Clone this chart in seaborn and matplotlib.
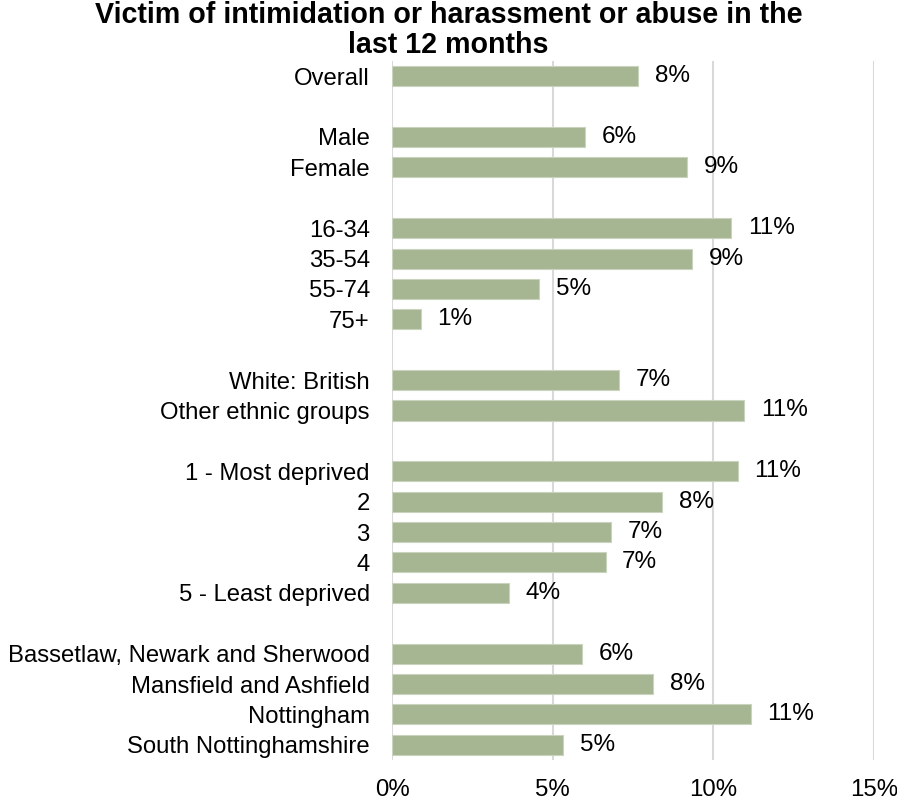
import matplotlib
matplotlib.use("Agg")
import matplotlib.pyplot as plt
import seaborn as sns
import pandas as pd

categories = ["Overall", "Male", "Female", "16-34", "35-54", "55-74", "75+",
              "White: British", "Other ethnic groups",
              "1 - Most deprived", "2", "3", "4", "5 - Least deprived",
              "Bassetlaw, Newark and Sherwood", "Mansfield and Ashfield",
              "Nottingham", "South Nottinghamshire"]
values = [7.67, 6.01, 9.18, 10.56, 9.35, 4.58, 0.90,
          7.07, 10.96,
          10.77, 8.41, 6.82, 6.65, 3.63,
          5.91, 8.14, 11.17, 5.34]
# blank spacer rows between groups
order = ["Overall", "gap1", "Male", "Female", "gap2",
         "16-34", "35-54", "55-74", "75+", "gap3",
         "White: British", "Other ethnic groups", "gap4",
         "1 - Most deprived", "2", "3", "4", "5 - Least deprived", "gap5",
         "Bassetlaw, Newark and Sherwood", "Mansfield and Ashfield",
         "Nottingham", "South Nottinghamshire"]
x_ticks = [0, 5, 10, 15]
x_tick_labels = ["0%", "5%", "10%", "15%"]
title = "Victim of intimidation or harassment or abuse in the\nlast 12 months"

sns.set_theme(style="white")
plt.rcParams['font.family'] = ['Liberation Sans', 'DejaVu Sans']
plt.rcParams['text.color'] = 'black'
plt.rcParams['xtick.color'] = 'black'
plt.rcParams['ytick.color'] = 'black'

df = pd.DataFrame({"category": categories, "value": values})

fig = plt.figure(figsize=(8.97, 8.09), dpi=100)
ax = fig.add_axes([392/897, 1-760/809, (873.7-392)/897, (760-61)/809])

sns.barplot(data=df, x="value", y="category", order=order, orient="h",
            color="#A6B592", saturation=1, width=0.66, ax=ax,
            edgecolor="#C9D3BE", linewidth=0.8)

for c in ax.containers:
    ax.bar_label(c, labels=[f"{v:.0f}%" if v == v else "" for v in c.datavalues],
                 padding=12, fontsize=17.5, color="black")

ax.set_xlim(0, 15)
ax.set_ylim(len(order) - 0.5, -0.5)
ax.set_xticks(x_ticks)
ax.set_xticklabels(x_tick_labels, fontsize=17.3)
ax.set_yticks(range(len(order)))
ax.set_yticklabels(["" if o.startswith("gap") else o for o in order], fontsize=17.2)
ax.tick_params(axis="x", length=0, pad=14, colors="black")
ax.tick_params(axis="y", length=0, pad=16, colors="black")
ax.set_xlabel("")
ax.set_ylabel("")
ax.grid(axis="x", color="#D9D9D9", linewidth=1.5)
ax.set_axisbelow(True)
for s in ax.spines.values():
    s.set_visible(False)

fig.text(0.5, 1-1/809, title, ha="center", va="top", fontsize=20.6,
         fontweight="bold", linespacing=1.08, color="black")

fig.savefig("out.png", dpi=100)
